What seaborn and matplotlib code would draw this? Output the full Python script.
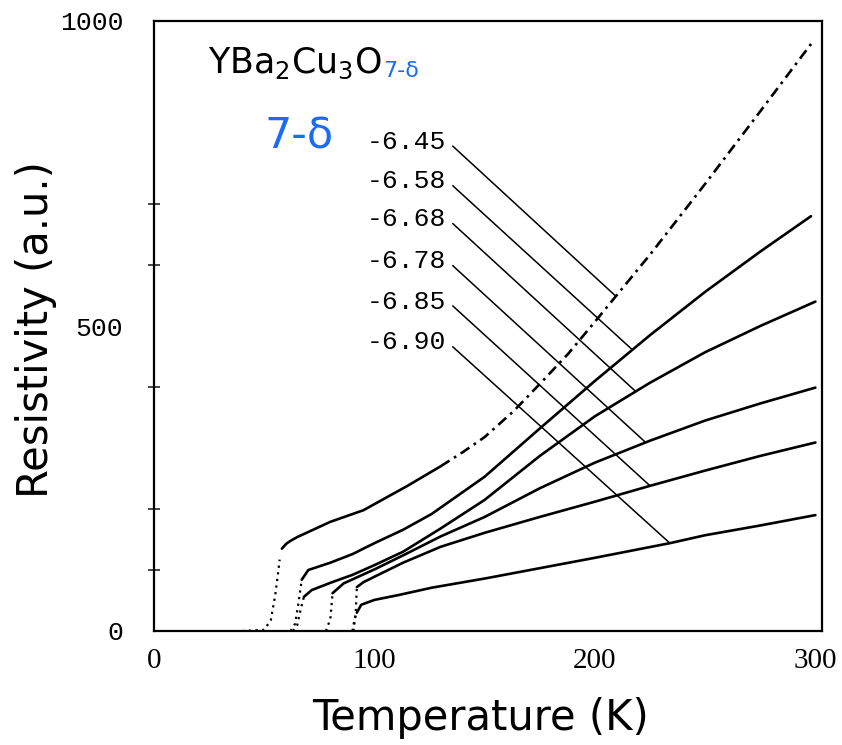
import numpy as np
import pandas as pd
import matplotlib
matplotlib.use("Agg")
import matplotlib.pyplot as plt
import seaborn as sns
from matplotlib.ticker import FixedLocator

# ---------------- data ----------------
compositions = ["6.45", "6.58", "6.68", "6.78", "6.85", "6.90"]
onset_T = [57.5, 67, 68, 81, 92, 92]          # onset of superconducting transition (K)

T_645 = [40, 50, 53, 55, 56, 57, 58, 60, 62, 65, 80, 95, 100, 115, 130, 140, 150, 163, 175, 188, 200, 225, 250, 275, 299]
R_645 = [0, 2, 18, 59, 87, 117, 135, 143, 148, 154, 179, 198, 208, 238, 270, 293, 318, 360, 405, 455, 507, 617, 733, 852, 967]

T_658 = [62, 64, 65.5, 67, 70, 80, 90, 100, 113, 126, 150, 175, 200, 225, 250, 275, 298]
R_658 = [0, 12, 45, 84, 100, 112, 126, 144, 166, 192, 253, 332, 410, 485, 556, 622, 680]

T_668 = [63, 65, 66.5, 68, 71.5, 80, 90, 100, 113, 130, 150, 175, 200, 225, 250, 275, 300]
R_668 = [0, 10, 35, 56, 67, 79, 92, 108, 130, 168, 215, 287, 352, 407, 457, 500, 540]

T_678 = [78, 80, 81, 86, 100, 113, 130, 150, 175, 200, 225, 250, 275, 300]
R_678 = [0, 20, 62, 78, 101, 124, 155, 187, 234, 276, 312, 345, 373, 399]

T_685 = [90.5, 91.5, 92, 95, 100, 113, 130, 150, 175, 200, 225, 250, 275, 300]
R_685 = [0, 30, 72, 80, 89, 112, 138, 161, 187, 212, 238, 263, 287, 309]

T_690 = [90, 91, 92, 94, 100, 111, 126, 150, 175, 200, 234, 250, 275, 300]
R_690 = [0, 20, 30, 43, 51, 59, 71, 86, 103, 120, 144, 157, 173, 190]

x_ticks = [0, 100, 200, 300]
y_ticks = [0, 500, 1000]
y_minor_ticks = [100, 200, 400, 600, 700]

# leader lines: label anchor and the temperature where each leader meets its curve
label_R = [802, 737, 675, 606, 540, 473]
leader_T_end = [209.5, 217, 218.5, 223, 225, 234]

curves_T = [T_645, T_658, T_668, T_678, T_685, T_690]
curves_R = [R_645, R_658, R_668, R_678, R_685, R_690]

# ---------------- style ----------------
sns.set_theme(style="white")
plt.rcParams["font.family"] = ["DejaVu Sans"]
plt.rcParams["mathtext.fontset"] = "dejavusans"

fig = plt.figure(figsize=(8.42, 7.45), dpi=100)
ax = fig.add_axes([154 / 842, 114 / 745, 668 / 842, 610 / 745])

rows = []
for comp, Ts, Rs in zip(compositions, curves_T, curves_R):
    for t, r in zip(Ts, Rs):
        rows.append({"comp": comp, "T": t, "R": r})
df = pd.DataFrame(rows)

for comp, tc in zip(compositions, onset_T):
    d = df[df["comp"] == comp]
    trans = d[d["T"] <= tc]
    normal = d[d["T"] >= tc]
    sns.lineplot(data=trans, x="T", y="R", ax=ax, color="black", lw=1.6,
                 linestyle=(0, (1, 2)), sort=False)
    if comp == "6.45":
        low = normal[normal["T"] <= 130]
        high = normal[normal["T"] >= 130]
        sns.lineplot(data=low, x="T", y="R", ax=ax, color="black", lw=1.9, sort=False)
        sns.lineplot(data=high, x="T", y="R", ax=ax, color="black", lw=1.9,
                     linestyle=(0, (4, 2, 1, 2)), sort=False)
    else:
        sns.lineplot(data=normal, x="T", y="R", ax=ax, color="black", lw=1.9, sort=False)

# labels and leader lines
mono = ["Liberation Mono", "DejaVu Sans Mono"]
for comp, lr, te, Ts, Rs in zip(compositions, label_R, leader_T_end, curves_T, curves_R):
    ax.text(132.6, lr, "-" + comp, ha="right", va="center", fontsize=19,
            family=mono, color="black")
    re = np.interp(te, Ts, Rs)
    ax.plot([135.5, te], [lr - 7, re], color="black", lw=1.1)

ax.text(66, 811, "7-δ", ha="center", va="center", fontsize=31, color="#1c6cf2")

title = ax.text(24.5, 915, r"YBa$_2$Cu$_3$O", ha="left", va="baseline",
                fontsize=25, color="black")
ax.annotate("7-δ", xy=(1, 0), xycoords=title, xytext=(1, 0),
            textcoords="offset points", ha="left", va="bottom",
            fontsize=16, color="#1c6cf2")

# axes
ax.set_xlim(0, 303)
ax.set_ylim(0, 1000)
ax.set_xticks(x_ticks)
ax.set_yticks(y_ticks)
ax.yaxis.set_minor_locator(FixedLocator(y_minor_ticks))
ax.set_xticklabels([str(v) for v in x_ticks], family=["Liberation Serif", "DejaVu Serif"], fontsize=21)
ax.set_yticklabels([str(v) for v in y_ticks], family=mono, fontsize=19)
ax.tick_params(axis="x", direction="in", length=6, width=1.2, pad=12, colors="black")
ax.tick_params(axis="y", which="major", length=0, pad=22, colors="black")
ax.tick_params(axis="y", which="minor", direction="inout", length=8, width=1.2, left=True)

for s in ax.spines.values():
    s.set_color("black")
    s.set_linewidth(1.6)

ax.set_xlabel("")
ax.set_ylabel("")
fig.text(480 / 842, 1 - 718 / 745, "Temperature (K)", ha="center", va="center",
         fontsize=30, color="black")
fig.text(36 / 842, 1 - 330 / 745, "Resistivity (a.u.)", ha="center", va="center",
         rotation=90, fontsize=30, color="black")

fig.savefig("out.png", dpi=100)
